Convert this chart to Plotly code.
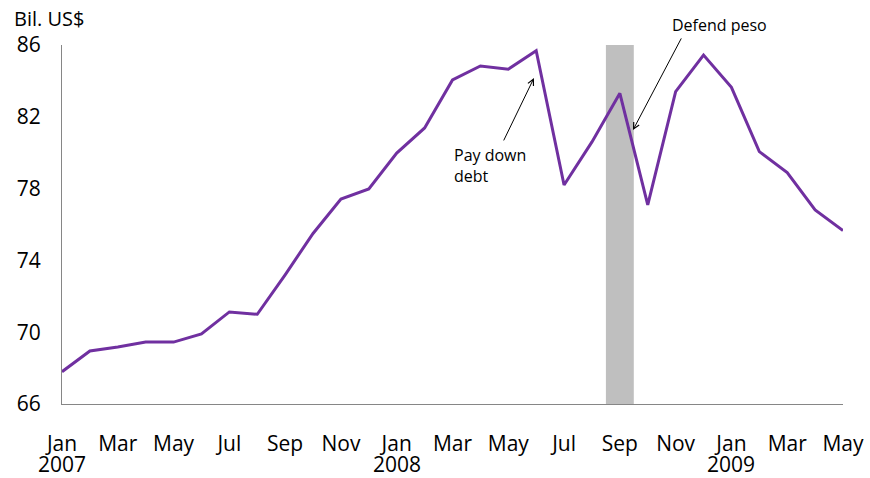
import plotly.graph_objects as go

months = ["Jan 2007", "Feb 2007", "Mar 2007", "Apr 2007", "May 2007", "Jun 2007",
          "Jul 2007", "Aug 2007", "Sep 2007", "Oct 2007", "Nov 2007", "Dec 2007",
          "Jan 2008", "Feb 2008", "Mar 2008", "Apr 2008", "May 2008", "Jun 2008",
          "Jul 2008", "Aug 2008", "Sep 2008", "Oct 2008", "Nov 2008", "Dec 2008",
          "Jan 2009", "Feb 2009", "Mar 2009", "Apr 2009", "May 2009"]
reserves = [67.8, 68.95, 69.18, 69.45, 69.45, 69.9,
            71.13, 71.0, 73.2, 75.5, 77.42, 77.98,
            79.98, 81.38, 84.05, 84.83, 84.65, 85.68,
            78.2, 80.6, 83.31, 77.09, 83.4, 85.44,
            83.64, 80.06, 78.89, 76.81, 75.66]
tick_labels = ["Jan", "Mar", "May", "Jul", "Sep", "Nov"] * 2 + ["Jan", "Mar", "May"]
year_labels = ["2007", "2008", "2009"]
y_ticks = [66, 70, 74, 78, 82, 86]

xi = list(range(len(months)))
font = "Open Sans"

fig = go.Figure()
fig.add_trace(go.Scatter(x=xi, y=reserves, mode="lines",
                         line=dict(color="#7030A0", width=3), hoverinfo="skip"))

# shaded crisis month (Sep 2008)
sep_idx = months.index("Sep 2008")
fig.add_shape(type="rect", xref="x", yref="y", x0=sep_idx - 0.5, x1=sep_idx + 0.5,
              y0=66, y1=86, fillcolor="#BFBFBF", line=dict(width=0), layer="below")

fig.update_layout(
    width=870, height=478,
    margin=dict(l=62, r=27, t=45, b=74, autoexpand=False),
    paper_bgcolor="white", plot_bgcolor="white",
    showlegend=False,
    font=dict(family=font, color="#000000", size=20),
    xaxis=dict(range=[0, len(months) - 1], tickvals=xi[::2], ticktext=tick_labels,
               showgrid=False, zeroline=False, showline=True, linecolor="#868686",
               linewidth=1, ticks="outside", ticklen=21, tickcolor="rgba(0,0,0,0)",
               tickfont=dict(size=21, family=font), automargin=False),
    yaxis=dict(range=[66, 86], tickvals=y_ticks, showgrid=False, zeroline=False,
               showline=True, linecolor="#868686", linewidth=1, ticks="outside",
               ticklen=16, tickcolor="rgba(0,0,0,0)", tickfont=dict(size=21, family=font),
               automargin=False),
)

anns = []
anns.append(dict(text="Bil. US$", xref="paper", yref="paper", x=-0.064, y=1.075,
                 xanchor="left", yanchor="middle", showarrow=False,
                 font=dict(size=20, family=font)))
for k, yr in enumerate(year_labels):
    anns.append(dict(text=yr, xref="x", yref="paper", x=12 * k, y=-0.168,
                     xanchor="center", yanchor="middle", showarrow=False,
                     font=dict(size=21, family=font)))
# arrows
anns.append(dict(text="", xref="x", yref="y", axref="x", ayref="y",
                 x=16.92, y=84.16, ax=15.81, ay=80.6, showarrow=True,
                 arrowhead=5, arrowsize=1.2, arrowwidth=1, arrowcolor="#000000"))
anns.append(dict(text="", xref="x", yref="y", axref="x", ayref="y",
                 x=20.47, y=81.26, ax=22.23, ay=86.45, showarrow=True,
                 arrowhead=5, arrowsize=1.2, arrowwidth=1, arrowcolor="#000000"))
anns.append(dict(text="Pay down<br>debt", xref="x", yref="y", x=13.98, y=80.62,
                 xanchor="left", yanchor="top", align="left", showarrow=False,
                 font=dict(size=16, family=font)))
anns.append(dict(text="Defend peso", xref="paper", yref="paper", x=0.8425, y=1.056,
                 xanchor="center", yanchor="middle", showarrow=False,
                 font=dict(size=16, family=font)))
fig.update_layout(annotations=anns)

fig.write_html("out.html", config={"displayModeBar": False},
               post_script="document.body.style.margin='0';document.body.style.overflow='hidden';")
